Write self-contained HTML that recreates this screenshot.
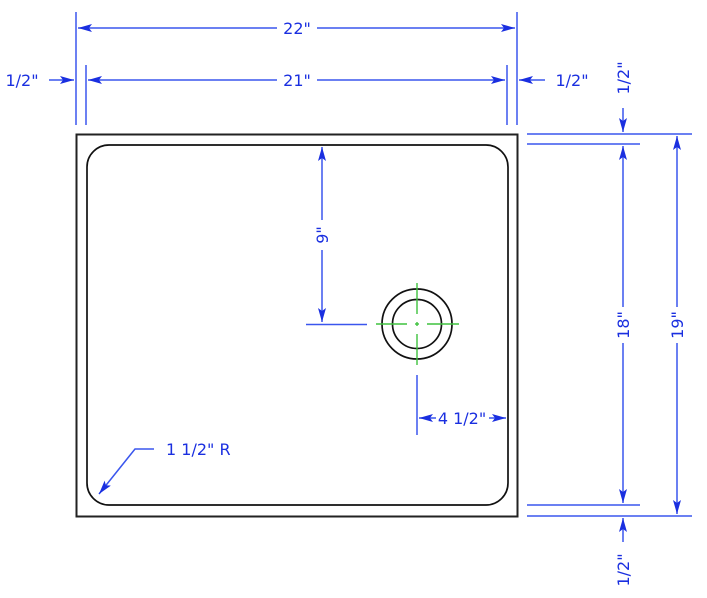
<!DOCTYPE html>
<html><head><meta charset="utf-8"><style>
html,body{margin:0;padding:0;background:#fff;width:707px;height:598px;overflow:hidden}
svg{display:block}
text{font-family:"DejaVu Sans","Liberation Sans",sans-serif;font-size:16px;fill:#1a2fe0}
</style></head><body>
<svg width="707" height="598" viewBox="0 0 707 598" xmlns="http://www.w3.org/2000/svg">
<defs>
<marker id="a" viewBox="0 0 14 8" refX="14" refY="4" markerWidth="14" markerHeight="8" markerUnits="userSpaceOnUse" orient="auto">
<path d="M0,0 L14,4 L0,8 L3,4 Z" fill="#1a2fe0"/></marker>
</defs>
<!-- sink -->
<rect x="76.5" y="134.5" width="441" height="382" fill="none" stroke="#222" stroke-width="2"/>
<rect x="87" y="145" width="421" height="360" rx="22" ry="22" fill="none" stroke="#111" stroke-width="1.7"/>
<circle cx="417" cy="324" r="35" fill="none" stroke="#111" stroke-width="1.7"/>
<circle cx="417" cy="324" r="24.5" fill="none" stroke="#111" stroke-width="1.7"/>
<g stroke="#3fc23f" stroke-width="1.4">
<line x1="376" y1="324" x2="407" y2="324"/><line x1="415" y1="324" x2="419" y2="324"/><line x1="427" y1="324" x2="459" y2="324"/>
<line x1="417" y1="283" x2="417" y2="314"/><line x1="417" y1="322" x2="417" y2="326"/><line x1="417" y1="334" x2="417" y2="365"/>
</g>
<g stroke="#3a56ee" stroke-width="1.5" fill="none">
<line x1="76" y1="12" x2="76" y2="125"/><line x1="517" y1="12" x2="517" y2="125"/>
<line x1="86" y1="65" x2="86" y2="125"/><line x1="507" y1="65" x2="507" y2="125"/>
<line x1="277" y1="28" x2="78" y2="28" marker-end="url(#a)"/><line x1="317" y1="28" x2="515" y2="28" marker-end="url(#a)"/>
<line x1="277" y1="80" x2="88" y2="80" marker-end="url(#a)"/><line x1="317" y1="80" x2="505" y2="80" marker-end="url(#a)"/>
<line x1="49" y1="80" x2="74" y2="80" marker-end="url(#a)"/>
<line x1="545" y1="80" x2="519" y2="80" marker-end="url(#a)"/>
<line x1="527" y1="134" x2="692" y2="134"/><line x1="527" y1="144" x2="640" y2="144"/>
<line x1="527" y1="505" x2="640" y2="505"/><line x1="527" y1="516" x2="692" y2="516"/>
<line x1="623" y1="307" x2="623" y2="146" marker-end="url(#a)"/><line x1="623" y1="343" x2="623" y2="503" marker-end="url(#a)"/>
<line x1="677" y1="307" x2="677" y2="136" marker-end="url(#a)"/><line x1="677" y1="343" x2="677" y2="514" marker-end="url(#a)"/>
<line x1="623" y1="108" x2="623" y2="132" marker-end="url(#a)"/>
<line x1="623" y1="542" x2="623" y2="518" marker-end="url(#a)"/>
<line x1="306" y1="324.5" x2="367" y2="324.5"/>
<line x1="322" y1="220" x2="322" y2="147" marker-end="url(#a)"/><line x1="322" y1="250" x2="322" y2="322" marker-end="url(#a)"/>
<line x1="417" y1="375" x2="417" y2="435"/>
<line x1="436" y1="418" x2="419" y2="418" marker-end="url(#a)"/><line x1="489" y1="418" x2="506" y2="418" marker-end="url(#a)"/>
<polyline points="154,449 135,449 99,494" marker-end="url(#a)"/>
</g>
<text x="297" y="34" text-anchor="middle">22"</text>
<text x="297" y="86" text-anchor="middle">21"</text>
<text x="22" y="86" text-anchor="middle">1/2"</text>
<text x="572" y="86" text-anchor="middle">1/2"</text>
<text x="462" y="424" text-anchor="middle">4 1/2"</text>
<text x="166" y="455">1 1/2" R</text>
<text transform="translate(629,78) rotate(-90)" text-anchor="middle">1/2"</text>
<text transform="translate(629,570) rotate(-90)" text-anchor="middle">1/2"</text>
<text transform="translate(629,325) rotate(-90)" text-anchor="middle">18"</text>
<text transform="translate(683,325) rotate(-90)" text-anchor="middle">19"</text>
<text transform="translate(328,235) rotate(-90)" text-anchor="middle">9"</text>
</svg>
</body></html>
